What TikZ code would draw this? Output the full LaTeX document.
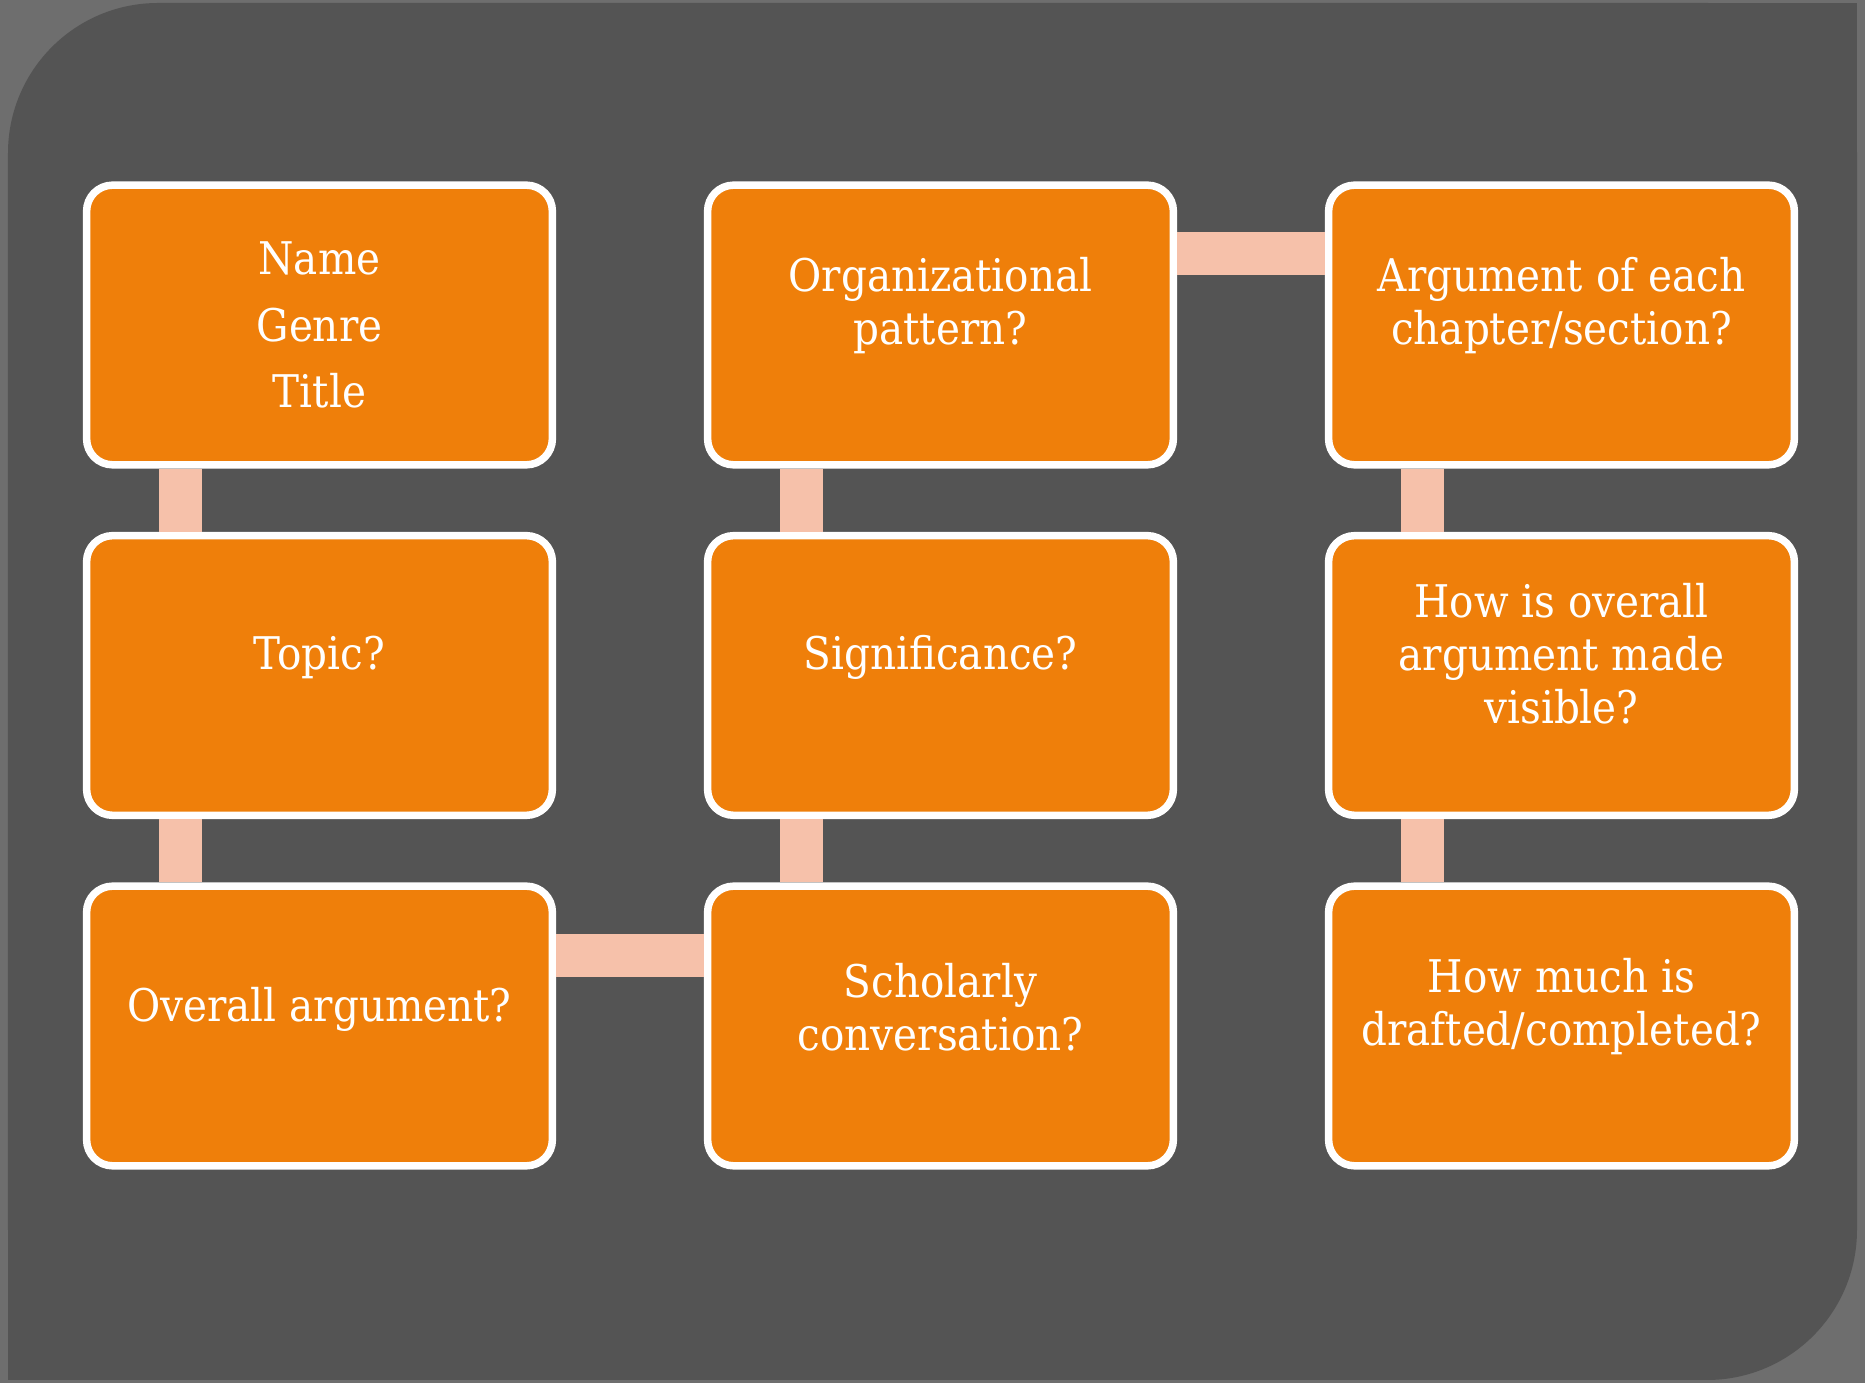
\documentclass[tikz,border=0pt]{standalone}
\usepackage{fontspec}
\setmainfont{DejaVu Serif Condensed}
\definecolor{panelgray}{HTML}{545454}
\definecolor{framegray}{HTML}{6E6E6E}
\definecolor{cardorange}{HTML}{EF7F0A}
\definecolor{linkpink}{HTML}{F6C1AA}

\begin{document}
\begin{tikzpicture}[x=0.01cm,y=-0.01cm,font=\fontsize{12.8}{15.1}\selectfont,
  card/.style={draw=white,line width=0.075cm,fill=cardorange,rounded corners=0.26cm,minimum width=4.655cm,minimum height=2.795cm},
  cardtext/.style={text=white,align=center,inner sep=0pt},
  link/.style={draw=linkpink,line width=0.43cm}]

\useasboundingbox (0,0) rectangle (1865,1383);
\fill[framegray] (0,0) rectangle (1865,1383);
\fill[panelgray,rounded corners=1.5cm] (8,3) rectangle (1857,1380);
\fill[panelgray] (900,3) rectangle (1857,700);
\fill[panelgray] (8,700) rectangle (900,1380);

\node[card] (name) at (319.5,325) {};
\node[card] (topic) at (319.5,675.5) {};
\node[card] (overall) at (319.5,1026) {};
\node[card] (org) at (940.5,325) {};
\node[card] (signif) at (940.5,675.5) {};
\node[card] (scholar) at (940.5,1026) {};
\node[card] (chap) at (1561.5,325) {};
\node[card] (visible) at (1561.5,675.5) {};
\node[card] (drafted) at (1561.5,1026) {};

\node[cardtext,font=\fontsize{12.8}{19}\selectfont] (name-t) at (name.center) {Name\\Genre\\Title};
\node[cardtext] (topic-t) at ([yshift=0.18cm]topic.center) {Topic?};
\node[cardtext] (overall-t) at ([yshift=0.17cm]overall.center) {Overall argument?};
\node[cardtext] (org-t) at ([yshift=0.19cm]org.center) {Organizational\\pattern?};
\node[cardtext] (signif-t) at ([yshift=0.18cm]signif.center) {Significance?};
\node[cardtext] (scholar-t) at ([yshift=0.19cm]scholar.center) {Scholarly\\conversation?};
\node[cardtext] (chap-t) at ([yshift=0.19cm]chap.center) {Argument of each\\chapter/section?};
\node[cardtext] (visible-t) at ([yshift=0.22cm]visible.center) {How is overall\\argument made\\visible?};
\node[cardtext] (drafted-t) at ([yshift=0.19cm]drafted.center) {How much is\\drafted/completed?};

\draw[link] ([xshift=-1.39cm]name.south) -- ([xshift=-1.39cm]topic.north);
\draw[link] ([xshift=-1.39cm]topic.south) -- ([xshift=-1.39cm]overall.north);
\draw[link] ([yshift=0.705cm]overall.east) -- ([yshift=0.705cm]scholar.west);
\draw[link] ([xshift=-1.39cm]scholar.north) -- ([xshift=-1.39cm]signif.south);
\draw[link] ([xshift=-1.39cm]signif.north) -- ([xshift=-1.39cm]org.south);
\draw[link] ([yshift=0.71cm]org.east) -- ([yshift=0.71cm]chap.west);
\draw[link] ([xshift=-1.39cm]chap.south) -- ([xshift=-1.39cm]visible.north);
\draw[link] ([xshift=-1.39cm]visible.south) -- ([xshift=-1.39cm]drafted.north);

\end{tikzpicture}
\end{document}
